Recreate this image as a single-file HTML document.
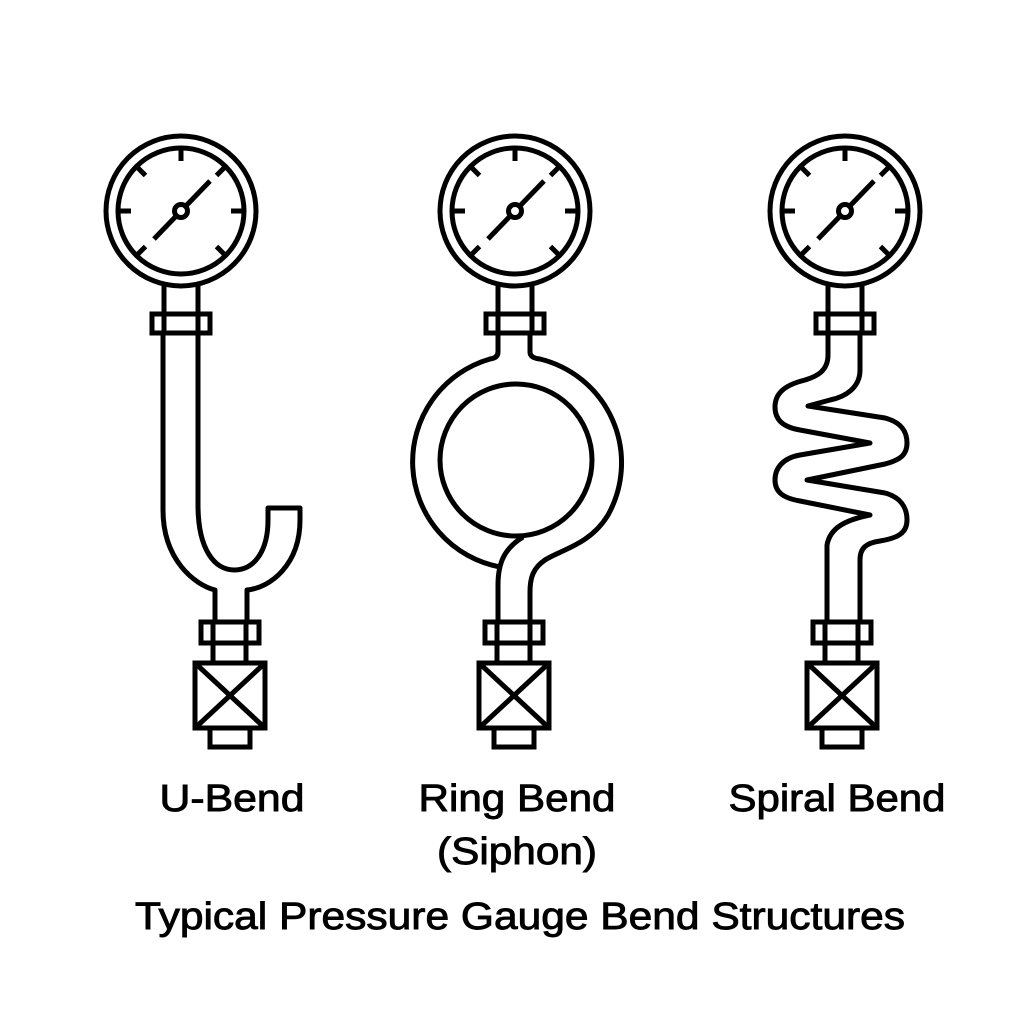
<!DOCTYPE html>
<html><head><meta charset="utf-8"><style>html,body{margin:0;padding:0;background:#fff}svg{display:block}</style></head>
<body>
<svg width="1024" height="1024" viewBox="0 0 1024 1024" xmlns="http://www.w3.org/2000/svg">
<defs>
<g id="gauge" fill="none" stroke="#000" stroke-width="5">
  <circle cx="0" cy="0" r="75" fill="#fff"/>
  <circle cx="0" cy="0" r="63"/>
  <line x1="0" y1="-63" x2="0" y2="-50"/>
  <line x1="-63" y1="0" x2="-50" y2="0"/>
  <line x1="63" y1="0" x2="50" y2="0"/>
  <line x1="-44.5" y1="-44.5" x2="-35.5" y2="-35.5"/>
  <line x1="44.5" y1="-44.5" x2="35.5" y2="-35.5"/>
  <line x1="-44.5" y1="44.5" x2="-35.5" y2="35.5"/>
  <line x1="44.5" y1="44.5" x2="35.5" y2="35.5"/>
  <line x1="-27" y1="28" x2="29" y2="-30"/>
  <circle cx="0" cy="0" r="6.5" fill="#fff"/>
</g>
<g id="bottom" fill="none" stroke="#000" stroke-width="5">
  <rect x="-29" y="0" width="58" height="21" fill="#fff"/>
  <line x1="-17" y1="0" x2="-17" y2="21"/>
  <line x1="16" y1="0" x2="16" y2="21"/>
  <line x1="-17" y1="21" x2="-17" y2="41"/>
  <line x1="16" y1="21" x2="16" y2="41"/>
  <rect x="-35" y="41" width="70" height="65" fill="#fff"/>
  <line x1="-35" y1="41" x2="35" y2="106"/>
  <line x1="35" y1="41" x2="-35" y2="106"/>
  <rect x="-20" y="106" width="40" height="19"/>
</g>
<g id="topnut" fill="none" stroke="#000" stroke-width="5">
  <line x1="-17" y1="-30" x2="-17" y2="0"/>
  <line x1="17" y1="-30" x2="17" y2="0"/>
  <rect x="-29" y="0" width="58" height="19" fill="#fff"/>
  <line x1="-17" y1="0" x2="-17" y2="19"/>
  <line x1="17" y1="0" x2="17" y2="19"/>
</g>
</defs>

<g fill="none" stroke="#000" stroke-width="5" stroke-linejoin="round">
  <path d="M163,333 V510 C163,560 195,585 215,590 V622"/>
  <path d="M198,333 V505 C198,550 215,570 234,570 C255,570 268,550 268,520 V508 H300 V520 C300,565 270,588 247,590 V622"/>
</g>
<use href="#topnut" x="181" y="314"/>
<use href="#gauge" x="181" y="211"/>
<use href="#bottom" x="230" y="622"/>

<g fill="none" stroke="#000" stroke-width="5" stroke-linejoin="round">
  <circle cx="516" cy="460" r="76"/>
  <path d="M498,333 V352 Q498,358 490,359 A107,107 0 0,0 500,567"/>
  <path d="M523,537 C505,548 498,562 498,585 V622"/>
  <path d="M530,333 V352 Q530,358 540,359 A107,107 0 0,1 608,515 C590,545 560,550 545,560 C533,568 530,578 530,592 V622"/>
</g>
<use href="#topnut" x="515" y="314"/>
<use href="#gauge" x="515" y="211"/>
<use href="#bottom" x="514" y="622"/>

<g fill="none" stroke="#000" stroke-width="5" stroke-linejoin="round">
  <path d="M828,333 V355 C828,372 815,377 805,380 C785,385 775,393 775,407 C775,420 783,427 800,430 L870,443 L800,455 C783,458 775,468 775,480 C775,492 783,498 800,501 L870,515 C845,520 830,528 827,545 V622"/>
  <path d="M860,333 V370 C860,388 845,397 830,400 L808,406 L885,418 C900,422 907,430 907,443 C907,455 900,460 885,464 L807,480 L885,493 C900,497 907,507 907,520 C907,533 898,538 880,541 C866,543 860,548 860,560 V622"/>
</g>
<use href="#topnut" x="845" y="314"/>
<use href="#gauge" x="845" y="211"/>
<use href="#bottom" x="842" y="622"/>

<g font-family="Liberation Sans, Arial, sans-serif" font-size="38" fill="#000" stroke="#000" stroke-width="0.9" text-anchor="middle">
  <text x="232" y="811" textLength="145" lengthAdjust="spacingAndGlyphs">U-Bend</text>
  <text x="517" y="811" textLength="197" lengthAdjust="spacingAndGlyphs">Ring Bend</text>
  <text x="517" y="864" textLength="160" lengthAdjust="spacingAndGlyphs">(Siphon)</text>
  <text x="837" y="811" textLength="217" lengthAdjust="spacingAndGlyphs">Spiral Bend</text>
  <text x="520" y="929" textLength="770" lengthAdjust="spacingAndGlyphs">Typical Pressure Gauge Bend Structures</text>
</g>
</svg>
</body></html>
